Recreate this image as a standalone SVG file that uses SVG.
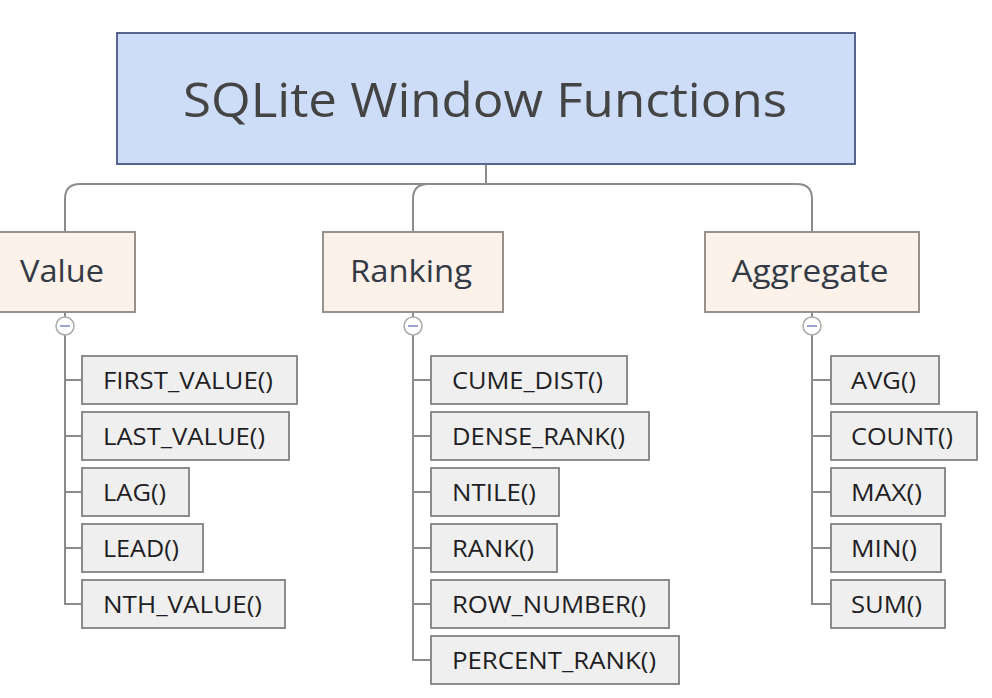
<svg xmlns="http://www.w3.org/2000/svg" width="992" height="698" viewBox="0 0 992 698">
<style>
  .root rect{fill:#cddcf7;stroke:#56648f;stroke-width:2}
  .root text{font-family:"Open Sans","Liberation Sans",sans-serif;font-size:47px;fill:#444444;text-anchor:middle}
  .cat rect{fill:#fcf2ea;stroke:#9a918b;stroke-width:2}
  .cat text{font-family:"Open Sans","Liberation Sans",sans-serif;font-size:31px;fill:#333a45;text-anchor:middle}
  .leaf rect{fill:#efefef;stroke:#8c8c8c;stroke-width:2}
  .leaf text{font-family:"Open Sans","Liberation Sans",sans-serif;font-size:24px;fill:#1e1e24}
  .conn path{fill:none;stroke:#8c8c8c;stroke-width:2}
  .toggle circle{fill:#ffffff;stroke:#aaaaaa;stroke-width:1.5}
  .toggle line{stroke:#7a86c0;stroke-width:1.5}
</style>
<g id="connectors" class="conn">
  <path d="M486 164 V184"/>
  <path d="M486 184 H80 Q65 184 65 199 V232"/>
  <path d="M486 184 H428 Q413 184 413 199 V232"/>
  <path d="M486 184 H797 Q812 184 812 199 V232"/>
  <path d="M65 312 V317"/>
  <path d="M413 312 V317"/>
  <path d="M812 312 V317"/>
  <path d="M65 335 V604 H82 M65 380 H82 M65 436 H82 M65 492 H82 M65 548 H82"/>
  <path d="M413 335 V660 H431 M413 380 H431 M413 436 H431 M413 492 H431 M413 548 H431 M413 604 H431"/>
  <path d="M812 335 V604 H831 M812 380 H831 M812 436 H831 M812 492 H831 M812 548 H831"/>
</g>
<g id="root" class="root">
  <rect x="117" y="33" width="738" height="131"/>
  <text x="485" y="117" textLength="604" lengthAdjust="spacingAndGlyphs">SQLite Window Functions</text>
</g>
<g id="value" class="cat">
  <rect x="-2" y="232" width="137" height="80"/>
  <text x="62" y="282" textLength="84" lengthAdjust="spacingAndGlyphs">Value</text>
</g>
<g id="ranking" class="cat">
  <rect x="323" y="232" width="180" height="80"/>
  <text x="411" y="282" textLength="122" lengthAdjust="spacingAndGlyphs">Ranking</text>
</g>
<g id="aggregate" class="cat">
  <rect x="705" y="232" width="214" height="80"/>
  <text x="810" y="282" textLength="157" lengthAdjust="spacingAndGlyphs">Aggregate</text>
</g>
<g id="toggles" class="toggle">
  <circle cx="65" cy="326" r="9"/><line x1="60" y1="326" x2="70" y2="326"/>
  <circle cx="413" cy="326" r="9"/><line x1="408" y1="326" x2="418" y2="326"/>
  <circle cx="812" cy="326" r="9"/><line x1="807" y1="326" x2="817" y2="326"/>
</g>
<g id="first_value" class="leaf"><rect x="82" y="356" width="215" height="48"/><text x="103" y="389" textLength="170" lengthAdjust="spacingAndGlyphs">FIRST_VALUE()</text></g>
<g id="last_value" class="leaf"><rect x="82" y="412" width="207" height="48"/><text x="103" y="445" textLength="162" lengthAdjust="spacingAndGlyphs">LAST_VALUE()</text></g>
<g id="lag" class="leaf"><rect x="82" y="468" width="107" height="48"/><text x="103" y="501" textLength="63" lengthAdjust="spacingAndGlyphs">LAG()</text></g>
<g id="lead" class="leaf"><rect x="82" y="524" width="121" height="48"/><text x="103" y="557" textLength="76" lengthAdjust="spacingAndGlyphs">LEAD()</text></g>
<g id="nth_value" class="leaf"><rect x="82" y="580" width="203" height="48"/><text x="103" y="613" textLength="159" lengthAdjust="spacingAndGlyphs">NTH_VALUE()</text></g>

<g id="cume_dist" class="leaf"><rect x="431" y="356" width="196" height="48"/><text x="452" y="389" textLength="151" lengthAdjust="spacingAndGlyphs">CUME_DIST()</text></g>
<g id="dense_rank" class="leaf"><rect x="431" y="412" width="218" height="48"/><text x="452" y="445" textLength="173" lengthAdjust="spacingAndGlyphs">DENSE_RANK()</text></g>
<g id="ntile" class="leaf"><rect x="431" y="468" width="128" height="48"/><text x="452" y="501" textLength="84" lengthAdjust="spacingAndGlyphs">NTILE()</text></g>
<g id="rank" class="leaf"><rect x="431" y="524" width="126" height="48"/><text x="452" y="557" textLength="82" lengthAdjust="spacingAndGlyphs">RANK()</text></g>
<g id="row_number" class="leaf"><rect x="431" y="580" width="238" height="48"/><text x="452" y="613" textLength="194" lengthAdjust="spacingAndGlyphs">ROW_NUMBER()</text></g>
<g id="percent_rank" class="leaf"><rect x="431" y="636" width="248" height="48"/><text x="452" y="669" textLength="204" lengthAdjust="spacingAndGlyphs">PERCENT_RANK()</text></g>

<g id="avg" class="leaf"><rect x="831" y="356" width="108" height="48"/><text x="851" y="389" textLength="65" lengthAdjust="spacingAndGlyphs">AVG()</text></g>
<g id="count" class="leaf"><rect x="831" y="412" width="146" height="48"/><text x="851" y="445" textLength="102" lengthAdjust="spacingAndGlyphs">COUNT()</text></g>
<g id="max" class="leaf"><rect x="831" y="468" width="114" height="48"/><text x="851" y="501" textLength="71" lengthAdjust="spacingAndGlyphs">MAX()</text></g>
<g id="min" class="leaf"><rect x="831" y="524" width="110" height="48"/><text x="851" y="557" textLength="66" lengthAdjust="spacingAndGlyphs">MIN()</text></g>
<g id="sum" class="leaf"><rect x="831" y="580" width="114" height="48"/><text x="851" y="613" textLength="71" lengthAdjust="spacingAndGlyphs">SUM()</text></g>
</svg>
